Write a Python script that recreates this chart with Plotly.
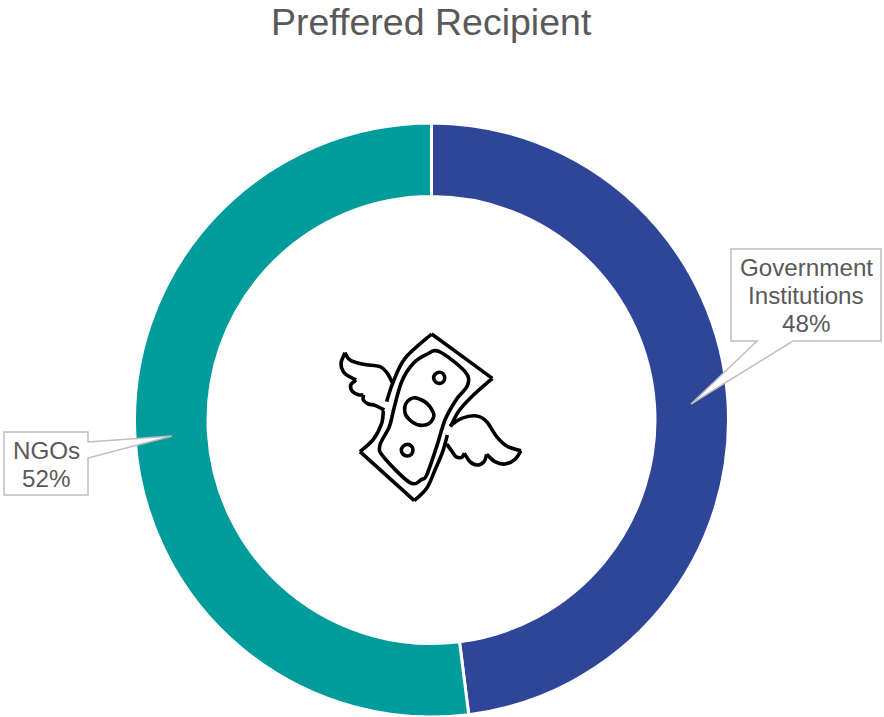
import plotly.graph_objects as go

W, H = 884, 717
categories = ["Government Institutions", "NGOs"]
shares = [48, 52]
colors = ["#2F4598", "#009C9C"]
title = "Preffered Recipient"

FONT = "Liberation Sans"
GREY = "#595959"
BORDER = "#BFBFBF"


def px(x):
    return x / W


def py(y):
    return 1 - y / H


def P(x, y):
    return f"{px(x):.5f} {py(y):.5f}"


def z(p):
    return (330 + p[0] / 3, 320 + p[1] / 3)


def smooth(points, closed=False, t=0.5):
    pts = [z(p) for p in points]
    n = len(pts)
    d = "M " + P(*pts[0])
    segs = n if closed else n - 1
    for i in range(segs):
        if closed:
            p0, p1, p2, p3 = pts[(i - 1) % n], pts[i], pts[(i + 1) % n], pts[(i + 2) % n]
        else:
            p0, p1, p2, p3 = pts[max(i - 1, 0)], pts[i], pts[i + 1], pts[min(i + 2, n - 1)]
        c1 = (p1[0] + (p2[0] - p0[0]) * t / 3, p1[1] + (p2[1] - p0[1]) * t / 3)
        c2 = (p2[0] - (p3[0] - p1[0]) * t / 3, p2[1] - (p3[1] - p1[1]) * t / 3)
        d += f" C {P(*c1)} {P(*c2)} {P(*p2)}"
    return d + (" Z" if closed else "")


icon_strokes = [
    # bill outline
    ([(305, 42), (487, 175)], False, 0.5),
    ([(487, 175), (425, 230), (385, 275), (362, 320)], False, 0.5),
    ([(352, 345), (338, 395), (315, 450), (290, 505), (253, 542)], False, 0.5),
    ([(253, 542), (90, 395)], False, 0.5),
    ([(90, 395), (130, 358), (155, 310), (160, 272)], False, 0.5),
    ([(170, 245), (188, 190), (225, 115), (305, 42)], False, 0.5),
    # inner border
    ([(290, 103), (328, 95), (405, 155), (413, 195), (378, 240), (345, 300), (320, 380),
      (290, 465), (275, 478), (240, 488), (160, 410), (150, 375), (178, 320), (192, 265),
      (215, 185), (250, 130)], True, 0.5),
    # bill spots
    ([(240, 238), (275, 240), (305, 268), (308, 298), (280, 316), (245, 305), (224, 272)], True, 0.7),
    ([(327, 157), (344, 172), (330, 190), (311, 175)], True, 0.83),
    ([(232, 373), (249, 390), (232, 408), (214, 391)], True, 0.83),
    # left wing
    ([(45, 98), (60, 120), (100, 133), (150, 140), (172, 160), (187, 188)], False, 0.5),
    ([(45, 98), (33, 130), (40, 155), (55, 168), (78, 180)], False, 0.5),
    ([(78, 180), (62, 195), (68, 215), (85, 224), (100, 225)], False, 0.5),
    ([(100, 225), (100, 240), (115, 252), (135, 256), (163, 270)], False, 0.5),
    # right wing
    ([(360, 318), (395, 295), (440, 288), (470, 305), (500, 350), (530, 378), (573, 392)], False, 0.5),
    ([(573, 392), (555, 418), (525, 432), (495, 425), (470, 403)], False, 0.5),
    ([(470, 403), (462, 425), (440, 435), (420, 425), (403, 400)], False, 0.5),
    ([(403, 400), (395, 412), (378, 410), (365, 393), (350, 372)], False, 0.5),
]

shapes = [
    dict(type="path", xref="paper", yref="paper", path=smooth(p, c, t),
         line=dict(color="black", width=3.6), fillcolor="rgba(0,0,0,0)", layer="above")
    for p, c, t in icon_strokes
]

callouts = [
    [(731, 249), (881, 249), (881, 341), (793, 341), (691, 404), (757, 341), (731, 341)],
    [(4, 432), (88, 432), (88, 442), (172, 436), (88, 458), (88, 495), (4, 495)],
]
for c in callouts:
    shapes.append(dict(type="path", xref="paper", yref="paper",
                       path="M " + " L ".join(P(*p) for p in c) + " Z",
                       line=dict(color=BORDER, width=1.5), fillcolor="white", layer="above"))

label_lines = [
    (806, 267, "Government"),
    (806, 295, "Institutions"),
    (806, 323, f"{shares[0]}%"),
    (46, 450, categories[1]),
    (46, 478, f"{shares[1]}%"),
]
annotations = [
    dict(x=px(x), y=py(y), xref="paper", yref="paper", text=t, showarrow=False,
         xanchor="center", yanchor="middle", font=dict(family=FONT, size=24.2, color=GREY))
    for x, y, t in label_lines
]
annotations.append(dict(x=px(431), y=py(22), xref="paper", yref="paper", text=title,
                        showarrow=False, xanchor="center", yanchor="middle",
                        font=dict(family=FONT, size=37.5, color=GREY)))

fig = go.Figure(go.Pie(
    labels=categories, values=shares, hole=0.7525, sort=False, direction="clockwise",
    rotation=0, marker=dict(colors=colors, line=dict(color="white", width=3)),
    textinfo="none", hoverinfo="label+percent", showlegend=False,
    domain=dict(x=[px(134.5), px(728.5)], y=[py(717), py(123)]),
))
fig.update_layout(width=W, height=H, margin=dict(l=0, r=0, t=0, b=0),
                  paper_bgcolor="white", plot_bgcolor="white",
                  shapes=shapes, annotations=annotations)
fig.write_html("out.html", config=dict(displayModeBar=False),
               post_script="document.body.style.margin='0';document.body.style.overflow='hidden';")
